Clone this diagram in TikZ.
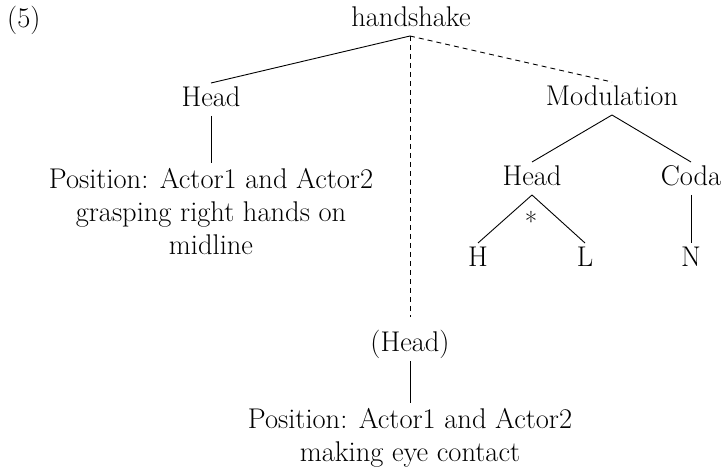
\documentclass[tikz,border=0pt]{standalone}
\begin{document}
\begin{tikzpicture}[x=1pt,y=-1pt,
  every node/.style={font=\fontsize{28.5}{33}\selectfont},
  lbl/.style={inner sep=0pt, text height=19pt, text depth=4pt, outer ysep=5pt, anchor=base},
  block/.style={inner sep=0pt, outer ysep=5pt, anchor=north, align=center},
  branch/.style={line width=0.9pt},
  optional/.style={line width=0.9pt, dash pattern=on 5pt off 4pt}]
\useasboundingbox (0,0) rectangle (724,468);

% example number and root
\node[inner sep=0pt, anchor=base west] (num) at (7,28) {(5)};
\node[inner sep=0pt, anchor=base] (root) at (411,27) {handshake};
\coordinate (apex) at (410,36);

% left head branch
\node[lbl] (headL) at (211,107) {Head};
\node[block] (posL) at (211,163) {Position: Actor1 and Actor2\\grasping right hands on\\midline};

% optional middle head branch
\node[lbl] (headM) at (410,352) {(Head)};
\node[block] (posM) at (410,403) {Position: Actor1 and Actor2\\making eye contact};

% modulation branch
\node[lbl] (mod) at (612,106) {Modulation};
\node[lbl] (headR) at (532,186) {Head};
\node[lbl] (coda) at (691,186) {Coda};
\node[lbl] (h) at (478,267) {H};
\node[lbl] (l) at (585,267) {L};
\node[lbl] (n) at (691,267) {N};
\node[inner sep=0pt, anchor=base, font=\fontsize{27}{30}\selectfont] (star) at (531,231.5) {*};

% connectors
\draw[branch] (apex) -- (headL.north);
\draw[branch] (headL.south) -- (posL.north);
\draw[optional, shorten >=11pt] (apex) -- (headM.north);
\draw[branch] (headM.south) -- (posM.north);
\draw[optional] (apex) -- (mod.north);
\draw[branch] (mod.south) -- (headR.north);
\draw[branch] (mod.south) -- (coda.north);
\draw[branch] (headR.south) -- (h.north);
\draw[branch] (headR.south) -- (l.north);
\draw[branch] (coda.south) -- (n.north);
\end{tikzpicture}
\end{document}
